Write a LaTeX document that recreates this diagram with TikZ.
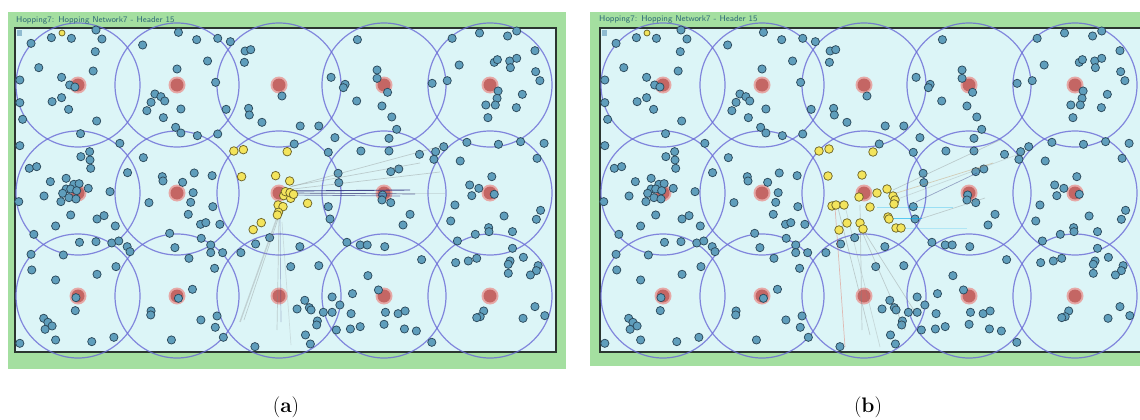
\documentclass[tikz,border=0pt]{standalone}

\definecolor{panelgreen}{HTML}{A4DFA0}
\definecolor{fieldcyan}{HTML}{DCF5F7}
\definecolor{framegrey}{HTML}{2B3530}
\definecolor{rangeblue}{HTML}{6A6AD6}
\definecolor{nodeblue}{HTML}{5F9EBC}
\definecolor{nodeedge}{HTML}{2C4A5C}
\definecolor{sinkred}{HTML}{C46664}
\definecolor{sinkhalo}{HTML}{E6A8A6}
\definecolor{hopyellow}{HTML}{F3E45C}
\definecolor{hopedge}{HTML}{6F6628}
\definecolor{headtext}{HTML}{2F6A78}
\definecolor{pathnavy}{HTML}{2A2A7A}

% sensor positions, shared by both snapshots
\def\sensorlist{60/55, 118/38, 175/40, 245/15, 262/42, 243/80, 82/128, 147/157, 170/180, 185/186, 237/138, 28/165, 28/233, 120/230, 147/218, 167/253, 36/283, 247/288,
378/60, 480/22, 532/44, 592/40, 628/50, 563/108, 476/132, 586/172, 413/207, 430/215, 441/228, 402/232, 390/257, 487/252, 437/278, 472/307, 487/324, 534/332, 592/327, 616/253,
670/78, 686/74, 668/112, 775/213, 680/250, 682/270, 718/292, 827/303, 880/303, 810/357,
990/44, 1046/135, 1046/160, 1076/202, 915/157, 955/178, 950/188, 988/228, 1060/243, 1088/276, 1102/313, 1080/340, 926/338, 1000/378, 1080/378, 1167/388, 1203/175, 1246/167, 1213/380, 1236/365,
1260/40, 1338/24, 1418/33, 1444/18, 1496/77, 1280/120, 1380/112, 1389/104, 1424/108, 1444/100, 1426/128, 1498/140, 1510/167, 1391/198, 1388/220, 1356/240, 1383/240, 1460/208, 1443/248, 1362/278, 1302/352, 1392/358, 1455/350, 1522/355, 1502/400,
28/362, 201/326, 227/380, 202/395, 228/405, 230/430, 55/430, 76/425, 115/470, 160/460, 182/478, 197/476, 160/492, 173/492, 190/497, 223/490, 150/505, 168/518, 188/522, 97/513, 145/530, 25/530, 173/570, 248/582, 268/572, 130/603, 68/628, 300/603, 285/500, 313/355,
380/398, 434/455, 436/468, 492/472, 525/444, 522/503, 515/532, 576/452, 578/545, 396/533, 508/568, 543/598, 558/593, 598/598, 455/625, 335/443,
907/382, 935/445, 937/473, 907/545, 912/582, 740/638,
1085/440, 1108/432, 1062/510, 1085/533, 1060/525, 1140/568, 1120/600, 1208/403,
1283/408, 1373/455, 1310/480, 1336/490, 1316/512, 1380/508, 1268/540, 1512/556, 1500/583, 1408/573, 1256/588, 1364/608, 1365/620, 1432/620, 1326/628, 1275/648,
60/688, 152/690, 198/652, 245/650, 290/654, 310/648, 334/665, 342/680, 62/735, 130/765, 248/748, 302/725, 188/818, 186/857, 96/880, 108/892, 120/903, 100/913, 130/945, 233/950, 296/937, 28/955,
470/668, 545/640, 572/660, 572/683, 606/683, 510/700, 583/730, 520/793, 480/820, 402/858, 401/870, 544/885, 590/873, 585/907, 608/937, 460/945,
658/683, 700/657, 826/665, 800/725, 880/722, 840/826, 818/852, 853/848, 858/855, 876/888, 874/900, 842/930, 856/957, 698/965, 893/862, 918/862, 940/840,
960/652, 998/660, 1018/660, 1068/665, 1020/752, 976/806, 1050/795, 918/816, 972/866, 1070/862, 1106/866, 1126/858, 998/905, 970/912, 1066/898, 1124/912, 1158/918, 1202/952, 930/915, 1173/704,
1270/713, 1306/708, 1330/700, 1425/708, 1420/718, 1463/697, 1432/670, 1505/722, 1500/737, 1483/750, 1420/745, 1496/845, 1524/872, 1462/880, 1350/858, 1340/875, 1330/878}

% field, ranges, sinks and sensors of one snapshot
\newcommand{\networkfield}{%
  \fill[fieldcyan] (15,28) rectangle (556,352);
  \draw[line width=1.4pt, framegrey] (15,28) rectangle (556,352);
  \fill[nodeblue!70] (17,30) rectangle (22,36);
  \foreach \cx in {78,177,279,384,490}
    \foreach \cy in {85,193,296}
      \draw[rangecircle] (\cx,\cy) circle (62);
  \foreach \cx in {78,177,279,384,490}
    \foreach \cy in {85,193,296} {
      \fill[sinkhalo] (\cx,\cy) circle (8.5);
      \fill[sinkred] (\cx,\cy) circle (6.5);
    }
  \begin{scope}[shift={(10,25)}, x=0.3509pt, y=-0.3333pt]
    \foreach \x/\y in \sensorlist
      \draw[sensor] (\x,\y) circle (4.1pt);
  \end{scope}
  \draw[hopnode] (62,33) circle (3pt);
}

\begin{document}
\begin{tikzpicture}[x=1pt, y=-1pt,
  rangecircle/.style={draw=rangeblue, line width=1.2pt, draw opacity=0.8},
  sensor/.style={fill=nodeblue, draw=nodeedge, line width=0.75pt},
  hopnode/.style={fill=hopyellow, draw=hopedge, line width=0.75pt},
  hoplink/.style={line width=0.7pt, draw opacity=0.35},
  header/.style={font=\fontsize{8.4}{9}\selectfont\sffamily, text=headtext, anchor=west, inner sep=0pt},
  caption/.style={font=\fontsize{21}{24}\selectfont}]
\useasboundingbox (0,0) rectangle (1140,420);

% (a)
\fill[panelgreen] (8,12) rectangle (566,369);
\networkfield
\node[header] (heada) at (16,20) {Hopping7: Hopping Network7 - Header 15};

\draw[hoplink, pathnavy, draw opacity=0.85, line width=0.9pt] (290,191) -- (410,190);
\draw[hoplink, pathnavy, draw opacity=0.7] (292,193) -- (415,194);
\draw[hoplink, pathnavy, draw opacity=0.55] (288,195) -- (400,196);
\draw[hoplink, gray] (290,187) -- (445,145);
\draw[hoplink, gray] (292,186) -- (420,163);
\draw[hoplink, gray] (293,189) -- (440,172);
\draw[hoplink, gray, draw opacity=0.2] (295,193) -- (445,193);
\draw[hoplink, gray, line width=1.4pt, draw opacity=0.3] (278,215) -- (240,322);
\draw[hoplink, gray] (279,216) -- (244,320);
\draw[hoplink, pathnavy, draw opacity=0.3] (280,216) -- (281,322);
\draw[hoplink, gray] (279,217) -- (277,330);
\draw[hoplink, gray, draw opacity=0.2] (282,222) -- (291,345);

\begin{scope}[shift={(10,25)}, x=0.3509pt, y=-0.3333pt]
  \foreach \x/\y in {638/378, 665/374, 790/380, 660/455, 757/452, 797/468, 848/535,
      716/593, 693/614, 764/540, 778/545, 765/562, 762/570,
      780/512, 800/520, 785/500, 798/503, 808/508}
    \draw[hopnode] (\x,\y) circle (4.3pt);
\end{scope}

\node[caption] (capa) at (286,407) {(\textbf{a})};

% (b)
\begin{scope}
\clip (0,0) rectangle (1140,420);
\fill[panelgreen] (590,12) rectangle (1150,366);
\begin{scope}[shift={(585,0)}]
  \networkfield
\end{scope}
\end{scope}
\node[header] (headb) at (599,19) {Hopping7: Hopping Network7 - Header 15};

\draw[hoplink, gray] (893,190) -- (1000,140);
\draw[hoplink, brown] (890,195) -- (993,163);
\draw[hoplink, gray, draw opacity=0.25] (895,200) -- (1030,150);
\draw[hoplink, pathnavy, draw opacity=0.4] (916,202) -- (977,173);
\draw[hoplink, gray] (917,220) -- (985,198);
\draw[hoplink, cyan, draw opacity=0.3] (877,207) -- (953,207);
\draw[hoplink, cyan, draw opacity=0.6] (893,218) -- (922,218);
\draw[hoplink, cyan, draw opacity=0.2] (903,228) -- (967,228);
\draw[hoplink, red!60!brown, draw opacity=0.3] (835,207) -- (845,347);
\draw[hoplink, gray] (838,208) -- (870,335);
\draw[hoplink, gray] (860,205) -- (862,330);
\draw[hoplink, gray] (860,227) -- (905,330);
\draw[hoplink, gray] (863,230) -- (915,312);
\draw[hoplink, gray, draw opacity=0.25] (845,206) -- (880,347);

\foreach \x/\y in {819/151, 829/149, 873/152, 828/176, 862/175, 877/193, 887/189,
    893/196, 895/200, 894/204, 859/197, 870/207, 832/206, 836/205, 844/205,
    847/223, 839/230, 860/223, 863/229, 888/217, 889/219, 896/228, 901/228}
  \draw[hopnode] (\x,\y) circle (4.3pt);

\node[caption] (capb) at (868,407) {(\textbf{b})};
\end{tikzpicture}
\end{document}
